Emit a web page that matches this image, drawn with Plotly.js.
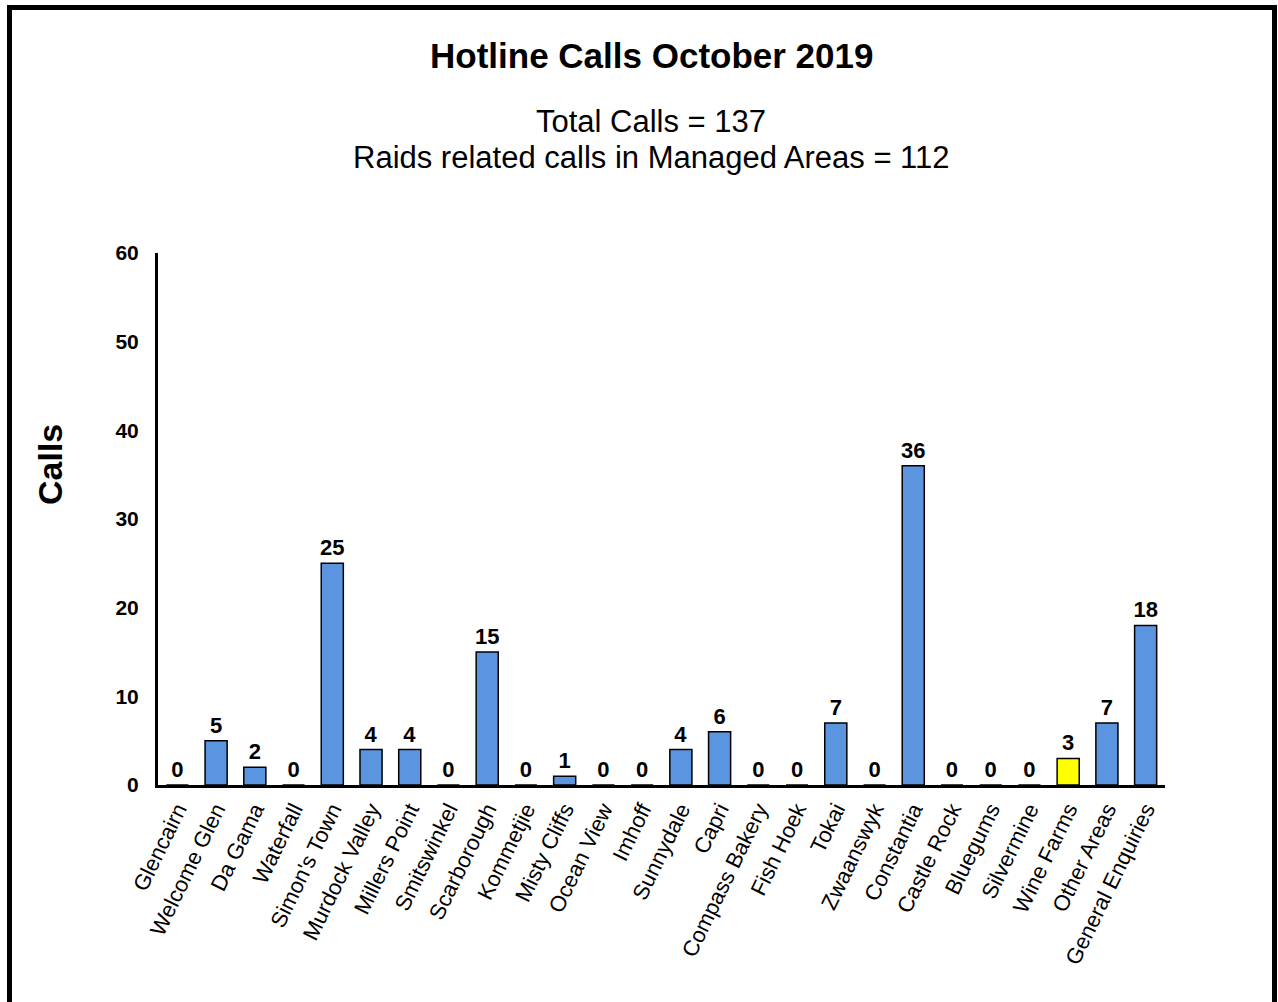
<!DOCTYPE html>
<html><head><meta charset="utf-8">
<script src="https://cdn.plot.ly/plotly-3.0.1.min.js"></script>
<style>
html,body{margin:0;padding:0;background:#fff;}
#wrap{position:relative;width:1278px;height:1002px;}
#chart{position:absolute;left:0;top:0;width:1278px;height:1002px;}
#frame{position:absolute;left:7px;top:5px;width:1260px;height:1010px;border:5px solid #000;pointer-events:none;}
</style>
</head><body>
<div id="wrap"><div id="chart"></div><div id="frame"></div></div>
<script>
const categories = ["Glencairn","Welcome Glen","Da Gama","Waterfall","Simon's Town","Murdock Valley","Millers Point","Smitswinkel","Scarborough","Kommetjie","Misty Cliffs","Ocean View","Imhoff","Sunnydale","Capri","Compass Bakery","Fish Hoek","Tokai","Zwaanswyk","Constantia","Castle Rock","Bluegums","Silvermine","Wine Farms","Other Areas","General Enquiries"];
const calls = [0,5,2,0,25,4,4,0,15,0,1,0,0,4,6,0,0,7,0,36,0,0,0,3,7,18];
const highlighted = "Wine Farms";
const yTicks = [0,10,20,30,40,50,60];

const colors = categories.map(c => c === highlighted ? "#FFFF00" : "#5B95DF");
const font = "Liberation Sans, Arial, sans-serif";

const trace = {
  type: "bar",
  x: categories,
  y: calls,
  marker: {color: colors, line: {color: "#000", width: 1.5}},
  text: calls.map(String),
  textposition: "outside",
  constraintext: "none",
  cliponaxis: false,
  textfont: {family: font, size: 22, color: "#000", weight: "bold"},
  hoverinfo: "x+y"
};

const layout = {
  width: 1278, height: 1002,
  margin: {l: 158, r: 113, t: 253, b: 217},
  paper_bgcolor: "#fff", plot_bgcolor: "#fff",
  showlegend: false,
  bargap: 0.43,
  font: {family: font, color: "#000"},
  xaxis: {
    type: "category",
    tickangle: -64,
    tickfont: {family: font, size: 22, color: "#000"},
    showline: true, linecolor: "#000", linewidth: 3,
    ticks: "", showgrid: false, zeroline: false,
    automargin: false
  },
  yaxis: {
    range: [0, 60],
    tickvals: yTicks,
    ticktext: yTicks.map(String),
    tickfont: {family: font, size: 21, color: "#000", weight: "bold"},
    showline: true, linecolor: "#000", linewidth: 3,
    ticks: "", ticklen: 0, showgrid: false, zeroline: false,
    ticklabelstandoff: 12,
    automargin: false
  },
  annotations: [
    {text: "<b>Hotline Calls October 2019</b>", xref: "paper", yref: "paper", x: 0.4896, y: 1, yshift: 198, showarrow: false, font: {family: font, size: 35, color: "#000"}, xanchor: "center", yanchor: "middle"},
    {text: "Total Calls = 137", xref: "paper", yref: "paper", x: 0.4896, y: 1, yshift: 132, showarrow: false, font: {family: font, size: 31, color: "#000"}, xanchor: "center", yanchor: "middle"},
    {text: "Raids related calls in Managed Areas = 112", xref: "paper", yref: "paper", x: 0.4896, y: 1, yshift: 96, showarrow: false, font: {family: font, size: 31, color: "#000"}, xanchor: "center", yanchor: "middle"},
    {text: "<b>Calls</b>", xref: "paper", yref: "paper", x: 0, y: 0, xshift: -108, yshift: 320, textangle: -90, showarrow: false, font: {family: font, size: 34, color: "#000"}, xanchor: "center", yanchor: "middle"}
  ]
};

Plotly.newPlot("chart", [trace], layout, {displayModeBar: false, responsive: false});
</script>
</body></html>
